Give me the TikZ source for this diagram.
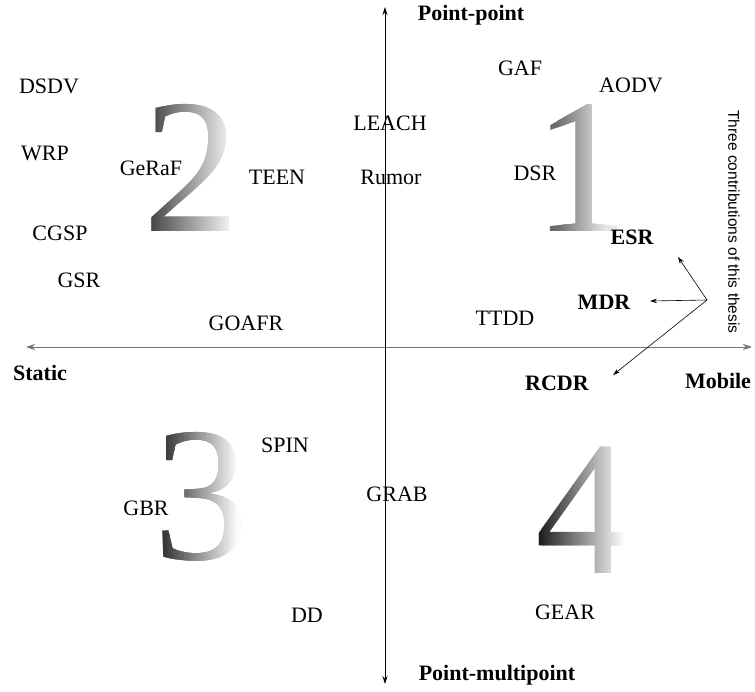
\documentclass[tikz,border=0pt]{standalone}
\usepackage{fontspec}
\setmainfont{Liberation Serif}
\newfontfamily\notefont{Liberation Sans}
\usetikzlibrary{arrows.meta}

% Big numeral with a left-to-right grey gradient, built from thin clipped strips.
% #1 glyph, #2 centre x, #3 centre y, #4 ink left, #5 ink right,
% #6 black percentage at the left, #7 black percentage at the right
\newcommand\gradglyph[7]{%
  \foreach \k in {0,...,59}{%
    \pgfmathsetmacro\xa{ifthenelse(\k==0, #4-40, #4+(#5-#4)*\k/60)}%
    \pgfmathsetmacro\xb{ifthenelse(\k==59, #5+40, #4+(#5-#4)*(\k+1)/60+0.5)}%
    \pgfmathsetmacro\pc{#6+(#7-#6)*\k/59}%
    \begin{scope}
      \clip (\xa,#3-120) rectangle (\xb,#3+120);
      \node[numeral, text=black!\pc] (num#1s\k) at (#2,#3) {#1};
    \end{scope}
  }}

\begin{document}
\begin{tikzpicture}[x=1pt,y=-1pt,
  lbl/.style={inner sep=0pt, font=\fontsize{22}{24}\selectfont},
  blbl/.style={inner sep=0pt, font=\bfseries\fontsize{22}{24}\selectfont},
  numeral/.style={inner sep=0pt, font=\fontsize{192}{192}\selectfont},
  pointer/.style={-{Stealth[length=7pt,width=4.5pt]}, line width=0.6pt}]
  \useasboundingbox[fill=white] (0,0) rectangle (755,691);

  % shaded quadrant numerals
  \gradglyph{2}{191}{168}{148}{234}{75}{3}
  \gradglyph{1}{581}{168}{557}{606}{58}{10}
  \gradglyph{3}{201}{497}{165}{238}{78}{2}
  \gradglyph{4}{583}{510}{540}{626}{88}{0}

  % axes
  \coordinate (west) at (26,347);
  \coordinate (east) at (752,347);
  \coordinate (north) at (385,7);
  \coordinate (south) at (385,684);
  \draw[line width=1pt, draw=black!55, {Stealth[length=9pt,width=6pt]}-{Stealth[length=9pt,width=6pt]}] (west) -- (east);
  \draw[line width=0.8pt, {Stealth[length=8pt,width=5pt]}-{Stealth[length=8pt,width=5pt]}] (south) -- (north);

  % axis labels
  \node[blbl] (static) at (40,373) {Static};
  \node[blbl] (mobile) at (718,381) {Mobile};
  \node[blbl] (pp) at (471,15) {Point-point};
  \node[blbl] (pmp) at (497,675) {Point-multipoint};

  % quadrant 2
  \node[lbl] (dsdv) at (49,86) {DSDV};
  \node[lbl] (wrp) at (45,153) {WRP};
  \node[lbl] (geraf) at (151,168) {GeRaF};
  \node[lbl] (teen) at (277,177) {TEEN};
  \node[lbl] (cgsp) at (60,233) {CGSP};
  \node[lbl] (gsr) at (79,280) {GSR};
  \node[lbl] (goafr) at (246,323) {GOAFR};
  \node[lbl] (leach) at (390,123) {LEACH};
  \node[lbl] (rumor) at (391,177) {Rumor};

  % quadrant 1
  \node[lbl] (gaf) at (520,68) {GAF};
  \node[lbl] (aodv) at (631,85) {AODV};
  \node[lbl] (dsr) at (535,173) {DSR};
  \node[lbl] (ttdd) at (505,318) {TTDD};
  \node[blbl] (esr) at (632,237) {ESR};
  \node[blbl] (mdr) at (604,302) {MDR};
  \node[blbl] (rcdr) at (557,383) {RCDR};

  % quadrants 3 and 4
  \node[lbl] (spin) at (285,445) {SPIN};
  \node[lbl] (gbr) at (146,508) {GBR};
  \node[lbl] (grab) at (397,494) {GRAB};
  \node[lbl] (dd) at (307,615) {DD};
  \node[lbl] (gear) at (565,612) {GEAR};

  % contributions note and pointers
  \node[rotate=-90, inner sep=0pt, font=\notefont\fontsize{15.5}{17}\selectfont] (note) at (734,222)
    {Three contributions of this thesis};
  \coordinate (hub) at (707,300);
  \coordinate (esrtip) at (678,257);
  \coordinate (mdrtip) at (650,301);
  \coordinate (rcdrtip) at (613,375);
  \draw[pointer] (hub) -- (esrtip);
  \draw[pointer] (hub) -- (mdrtip);
  \draw[pointer] (hub) -- (rcdrtip);
\end{tikzpicture}
\end{document}
